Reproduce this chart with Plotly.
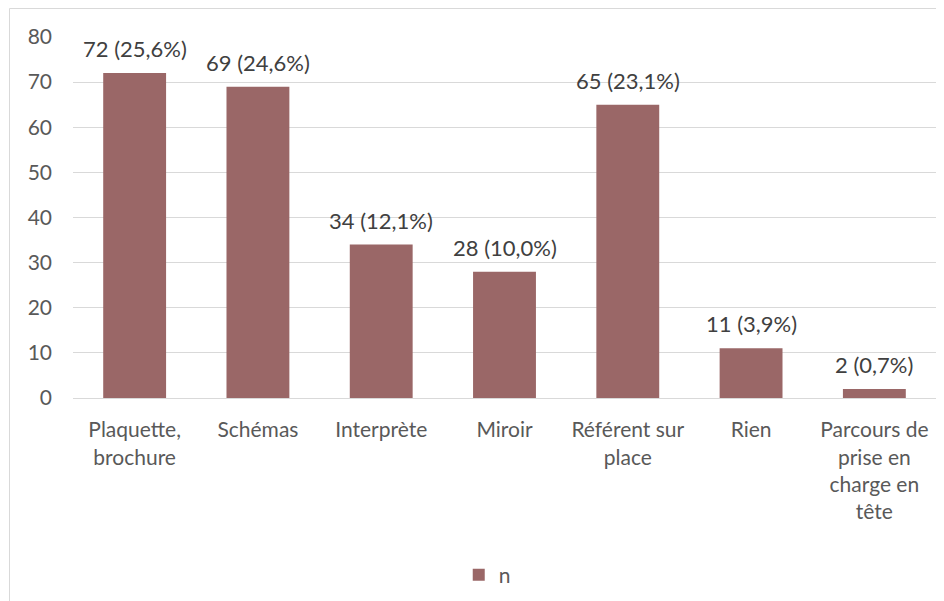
import plotly.graph_objects as go

categories = ["Plaquette,<br>brochure", "Schémas", "Interprète", "Miroir",
              "Référent sur<br>place", "Rien", "Parcours de<br>prise en<br>charge en<br>tête"]
values = [72, 69, 34, 28, 65, 11, 2]
percents = ["25,6%", "24,6%", "12,1%", "10,0%", "23,1%", "3,9%", "0,7%"]
y_ticks = [0, 10, 20, 30, 40, 50, 60, 70, 80]

labels = [f"{v} ({p})" for v, p in zip(values, percents)]

# page body has an 8px default margin, so the figure is drawn 8px smaller/offset
OFF = 8
W, H = 944 - OFF, 601 - OFF
ml, mr, mt, mb = 73 - OFF, 16 - OFF, 37 - OFF, 203
pw, ph = W - ml - mr, H - mt - mb

fig = go.Figure()
fig.add_trace(go.Bar(
    x=categories, y=values, name="n",
    marker=dict(color="#9a6767", line=dict(width=0)),
    cliponaxis=False,
))

for c, v, lab in zip(categories, values, labels):
    fig.add_annotation(x=c, y=v, text=lab, showarrow=False, yanchor="bottom",
                       yshift=9, font=dict(family="Lato", size=22, color="#404040"))

fig.update_layout(
    width=W, height=H,
    margin=dict(l=ml, r=mr, t=mt, b=mb, autoexpand=False),
    paper_bgcolor="white", plot_bgcolor="white",
    font=dict(family="Lato", size=21, color="#595959"),
    bargap=0.49,
    showlegend=True,
    legend=dict(orientation="h", x=0.48, xanchor="center", xref="paper",
                y=(H - (575 - OFF)) / H, yanchor="middle", yref="container",
                font=dict(family="Lato", size=21, color="#595959")),
    xaxis=dict(showgrid=False, showline=True, linecolor="#d9d9d9", linewidth=1,
               automargin=False, ticks="", ticklabelstandoff=13,
               tickfont=dict(family="Lato", size=21, color="#595959")),
    yaxis=dict(range=[0, 80], tickvals=y_ticks, showgrid=True, gridcolor="#d9d9d9",
               gridwidth=1, zeroline=False, showline=False, ticks="",
               automargin=False, ticklabelstandoff=20,
               tickfont=dict(family="Lato", size=21, color="#595959")),
)

# outer chart border
fig.add_shape(type="rect", xref="paper", yref="paper",
              x0=(1.5 - ml) / pw, x1=(W + 5 - ml) / pw,
              y0=-(mb + 5) / ph, y1=(H - mb - 0.5) / ph,
              line=dict(color="#d9d9d9", width=1), fillcolor="rgba(0,0,0,0)", layer="below")

fig.write_html("out.html")
